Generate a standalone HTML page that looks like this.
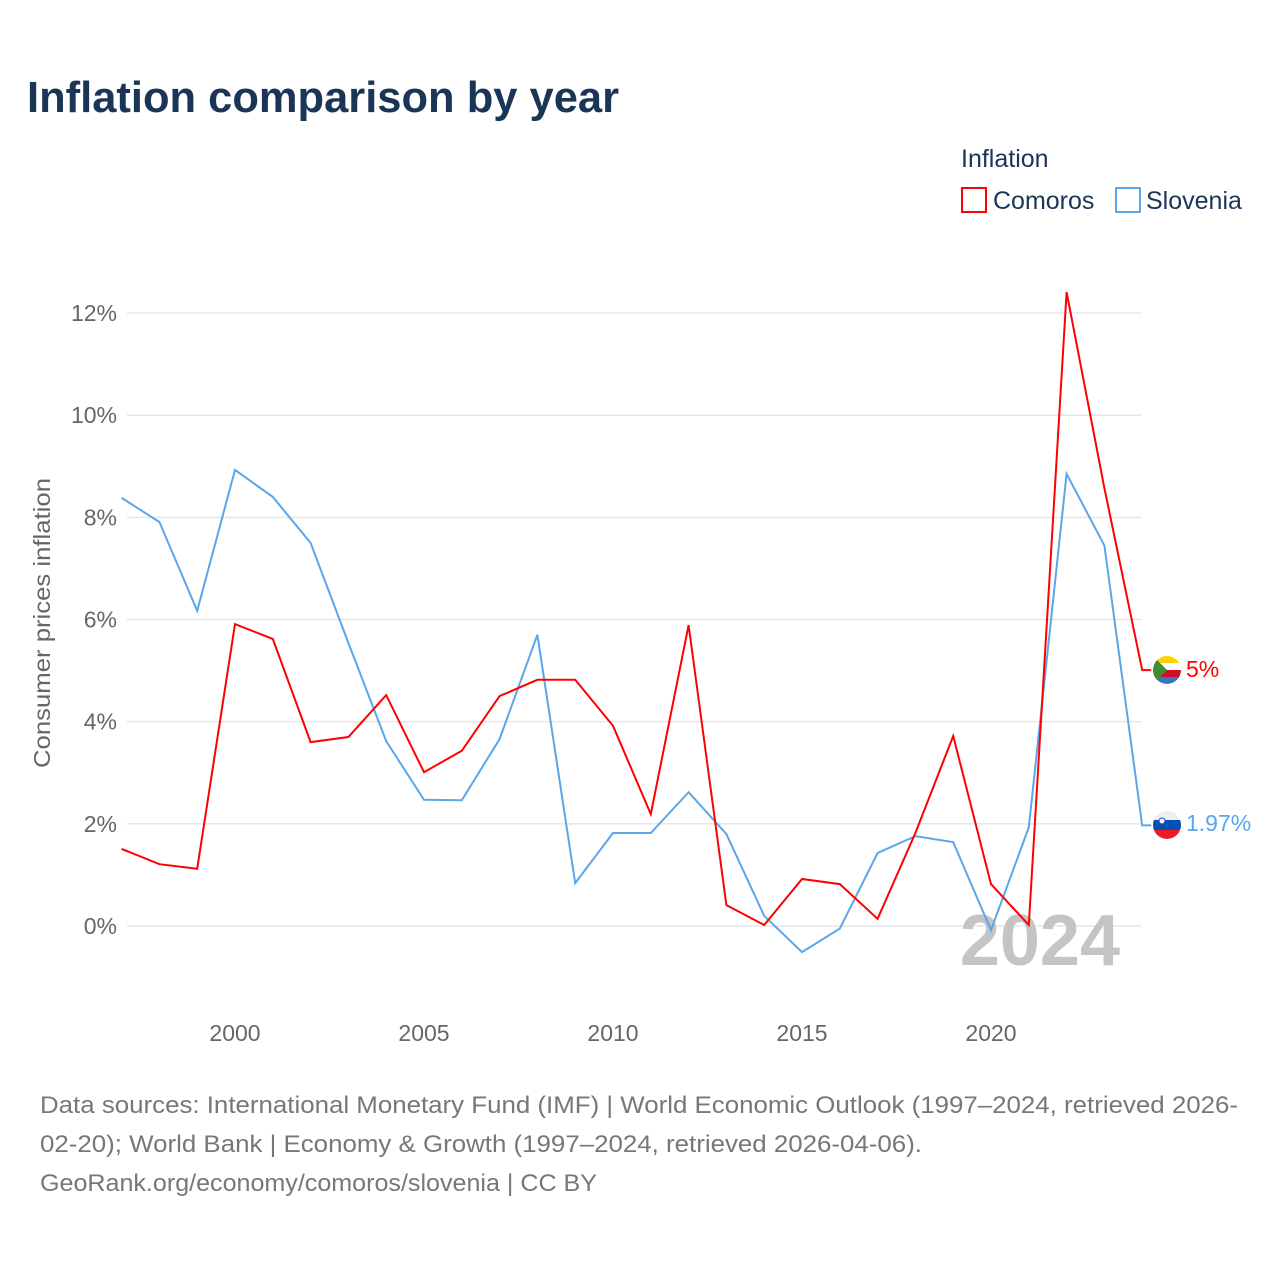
<!DOCTYPE html>
<html><head><meta charset="utf-8">
<style>
body{margin:0;background:#fff;font-family:"Liberation Sans",sans-serif;}
svg text{font-family:"Liberation Sans",sans-serif;}
</style></head>
<body>
<svg width="1280" height="1280" viewBox="0 0 1280 1280">
<text x="27" y="112" font-size="44" font-weight="bold" fill="#1b3557" textLength="592" lengthAdjust="spacingAndGlyphs">Inflation comparison by year</text>
<text x="961" y="167" font-size="25" fill="#1b3557">Inflation</text>
<g>
<rect x="962" y="188" width="24" height="24" fill="none" stroke="#ff0000" stroke-width="2"/>
<text x="993" y="209" font-size="25" fill="#1b3557">Comoros</text></g>
<g>
<rect x="1116" y="188" width="24" height="24" fill="none" stroke="#5aa6ea" stroke-width="2"/>
<text x="1146" y="209" font-size="25" fill="#1b3557">Slovenia</text></g>
<text transform="translate(50,623) rotate(-90)" text-anchor="middle" font-size="23" fill="#666" textLength="290" lengthAdjust="spacingAndGlyphs">Consumer prices inflation</text>
<g id="grid"></g><g id="xt"></g>
<text x="1120" y="965" text-anchor="end" font-size="72" font-weight="bold" fill="#c4c4c4">2024</text>
<g id="lines"></g>
<g>
<clipPath id="c1"><circle cx="1167" cy="670" r="14"/></clipPath>
<g clip-path="url(#c1)"><rect x="1153" y="656" width="28" height="7" fill="#ffd100"/><rect x="1153" y="663" width="28" height="7" fill="#fff"/><rect x="1153" y="670" width="28" height="7" fill="#ce1126"/><rect x="1153" y="677" width="28" height="7" fill="#3a75c4"/><polygon points="1153,656 1167,670 1153,684" fill="#3d8e33"/></g></g>
<g>
<clipPath id="c2"><circle cx="1167" cy="825" r="14"/></clipPath>
<g clip-path="url(#c2)"><rect x="1153" y="811" width="28" height="10" fill="#eee"/><rect x="1153" y="820" width="28" height="10" fill="#0050b5"/><rect x="1153" y="830" width="28" height="10" fill="#ed1c24"/><circle cx="1162" cy="821" r="3" fill="#fff" stroke="#0050b5"/></g></g>
<text x="1186" y="677" font-size="23" fill="#ff0000">5%</text>
<text x="1186" y="831" font-size="23" fill="#5aa6ea">1.97%</text>
<g font-size="24" fill="#777">
<text x="40" y="1113" textLength="1198" lengthAdjust="spacingAndGlyphs">Data sources: International Monetary Fund (IMF) | World Economic Outlook (1997–2024, retrieved 2026-</text>
<text x="40" y="1152" textLength="882" lengthAdjust="spacingAndGlyphs">02-20); World Bank | Economy &amp; Growth (1997–2024, retrieved 2026-04-06).</text>
<text x="40" y="1191" textLength="557" lengthAdjust="spacingAndGlyphs">GeoRank.org/economy/comoros/slovenia | CC BY</text></g>
</svg>
<script>
const years=[1997,1998,1999,2000,2001,2002,2003,2004,2005,2006,2007,2008,2009,2010,2011,2012,2013,2014,2015,2016,2017,2018,2019,2020,2021,2022,2023,2024];
const comoros=[1.51,1.21,1.12,5.91,5.62,3.6,3.7,4.52,3.01,3.43,4.5,4.82,4.82,3.92,2.19,5.89,0.41,0.02,0.92,0.82,0.14,1.82,3.72,0.82,0.02,12.41,8.57,5.01];
const slovenia=[8.38,7.91,6.17,8.93,8.4,7.5,5.54,3.62,2.47,2.46,3.66,5.7,0.84,1.82,1.82,2.62,1.8,0.2,-0.51,-0.05,1.43,1.76,1.64,-0.08,1.93,8.85,7.45,1.97];
const yTicks=[0,2,4,6,8,10,12];
const xTicks=[2000,2005,2010,2015,2020];
const NS="http://www.w3.org/2000/svg";
const xs=y=>121.6+(y-1997)*37.8;
const ys=v=>926-v*51.08;
const grid=document.getElementById('grid');
yTicks.forEach(t=>{
 const l=document.createElementNS(NS,'line');
 l.setAttribute('x1',127);l.setAttribute('x2',1141);l.setAttribute('y1',ys(t));l.setAttribute('y2',ys(t));
 l.setAttribute('stroke','#e6e6e6');l.setAttribute('stroke-width','1.5');
 
 
 grid.appendChild(l);
 const tx=document.createElementNS(NS,'text');
 tx.setAttribute('x',117);tx.setAttribute('y',ys(t)+8);tx.setAttribute('text-anchor','end');
 tx.setAttribute('font-size','23');tx.setAttribute('fill','#666');tx.textContent=t+'%';
 
 
 grid.appendChild(tx);
});
const xt=document.getElementById('xt');
xTicks.forEach(t=>{
 const tx=document.createElementNS(NS,'text');
 tx.setAttribute('x',xs(t));tx.setAttribute('y',1041);tx.setAttribute('text-anchor','middle');
 tx.setAttribute('font-size','23');tx.setAttribute('fill','#666');tx.textContent=t;
 
 
 xt.appendChild(tx);
});
const lines=document.getElementById('lines');
function draw(data,color,name){
 let d=data.map((v,i)=>(i?'L':'M')+xs(years[i]).toFixed(1)+','+ys(v).toFixed(1)).join(' ');
 d+=' L'+(xs(years[years.length-1])+9).toFixed(1)+','+ys(data[data.length-1]).toFixed(1);
 const p=document.createElementNS(NS,'path');
 p.setAttribute('d',d);p.setAttribute('fill','none');p.setAttribute('stroke',color);p.setAttribute('stroke-width','2');
 
 
 lines.appendChild(p);
}
draw(slovenia,'#5aa6ea','slovenia-line');
draw(comoros,'#ff0000','comoros-line');
</script>
</body></html>
